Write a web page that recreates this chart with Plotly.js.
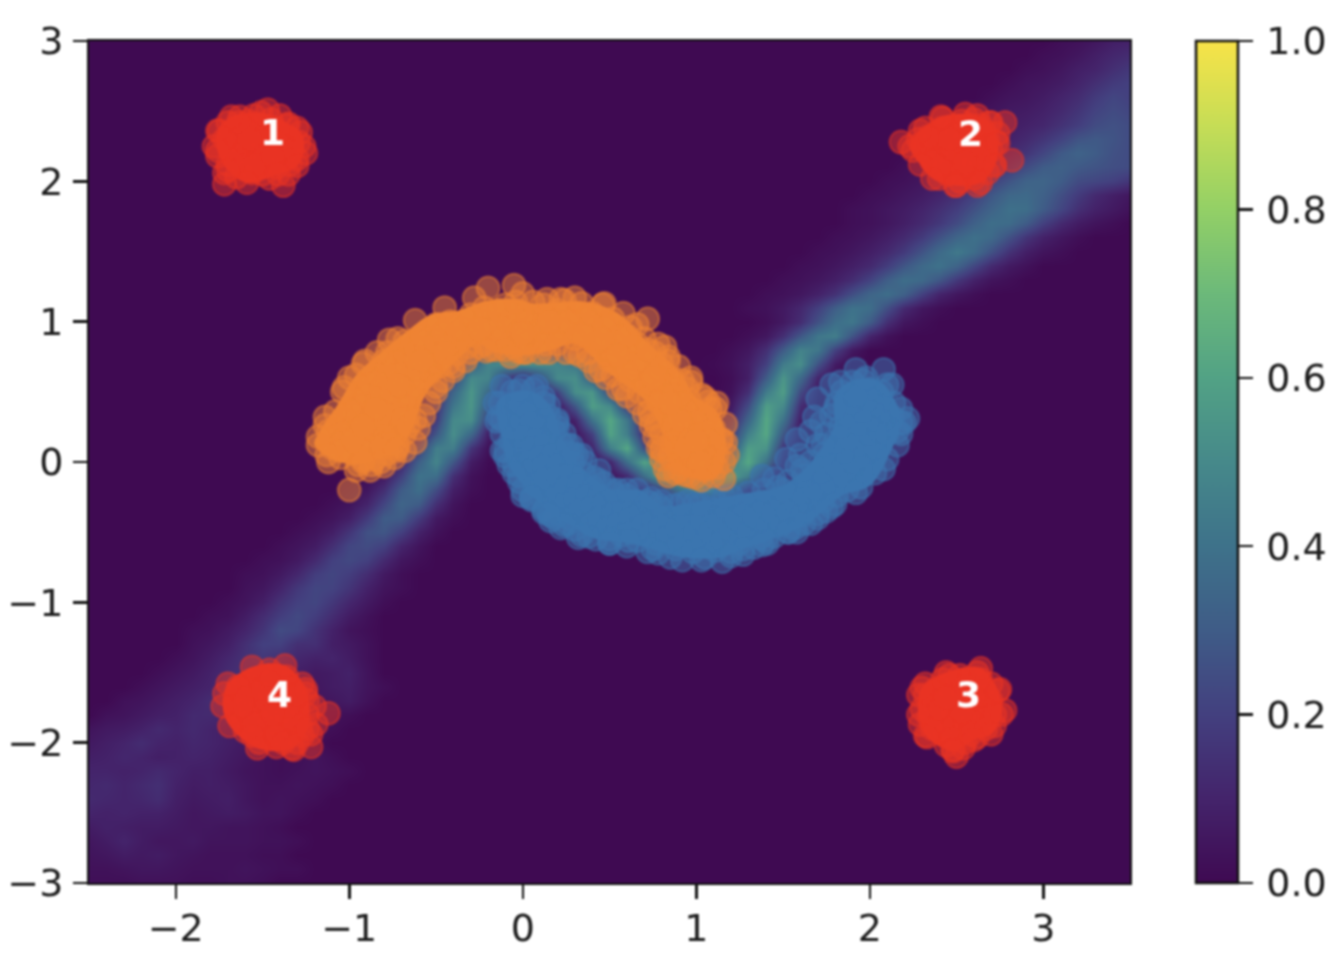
<!DOCTYPE html>
<html><head><meta charset="utf-8">
<script src="https://cdn.plot.ly/plotly-3.0.1.min.js"></script>
<style>html,body{margin:0;padding:0;background:#fff}#g{width:1340px;height:960px;filter:blur(0.8px)}</style>
</head><body><div id="g"></div>
<script>
const viridis=[[0,'#3f0a52'],[0.1,'#44246b'],[0.2,'#43407f'],[0.3,'#3f5c87'],[0.4,'#3e728a'],[0.5,'#46898a'],[0.6,'#52a285'],[0.7,'#6cb97a'],[0.8,'#93d066'],[0.9,'#c6dd56'],[1,'#f8e348']];
// density rows: [y, [xStart, percent values at 0.1 spacing], ...]
const heatRows=[
[3.0,[3.1,2,3,5,8,9]],[2.9,[3.0,2,3,5,8,11,13]],[2.8,[2.9,2,3,5,8,10,14,17]],[2.7,[2.8,2,4,5,7,10,14,18,20]],
[2.6,[2.7,2,4,5,7,10,13,18,22,20]],[2.5,[2.6,2,4,6,7,9,12,16,21,24,22]],[2.4,[2.5,2,4,5,7,9,11,15,19,24,26,24]],
[2.3,[2.4,2,3,5,7,9,12,16,21,27,29,27,24]],[2.2,[2.3,2,4,5,7,9,12,16,22,29,33,30,26,24]],
[2.1,[2.2,2,3,5,7,9,13,18,24,30,32,29,27,25,24]],[2.0,[2.1,2,3,5,7,10,14,20,27,33,34,30,24,22,20,16]],
[1.9,[2.0,2,3,5,7,10,14,20,28,35,36,32,25,18,12,8,5]],[1.8,[1.9,2,3,5,7,10,14,19,26,33,39,38,30,22,14,9,6,3]],
[1.7,[1.9,2,3,5,8,12,17,24,32,38,37,30,20,12,7,4,2]],[1.6,[1.8,2,3,5,8,12,18,26,34,39,36,26,16,9,5,2]],
[1.5,[1.7,2,3,5,8,12,18,27,36,43,37,26,15,8,4,2]],[1.4,[1.6,2,3,5,8,12,19,28,36,40,33,22,12,6,3]],
[1.3,[1.5,2,3,5,8,13,21,31,38,36,28,17,9,4,2]],[1.2,[1.4,2,3,5,9,15,25,34,38,32,20,10,5,2]],
[1.1,[1.3,2,3,6,11,20,31,40,38,25,12,5,2]],[1.0,[1.4,2,6,13,26,38,42,30,14,5,2]],
[0.9,[-0.3,3,5,6,6,5,3],[1.3,2,5,14,28,42,45,27,10,3]],
[0.8,[-0.4,3,14,22,24,22,18,10,4],[1.2,2,5,14,30,47,42,20,6]],
[0.7,[-0.4,6,30,48,50,52,52,48,42,30,16,5],[1.1,1,3,8,20,44,52,26,7]],
[0.6,[-0.5,4,20,50,48,20,8,25,50,52,30,8,2],[1.2,2,8,30,55,36,10,2]],
[0.5,[-0.6,3,10,34,55,36,10,3,2,20,52,55,22,4],[1.2,3,14,44,58,24,5]],
[0.4,[-0.6,3,14,42,55,28,6,1,0,4,28,58,50,18,3],[1.1,1,6,24,58,50,14,2]],
[0.3,[-0.7,2,5,18,50,52,18,3,0,0,0,10,40,62,42,10,2],[1.1,2,10,34,62,40,8]],
[0.2,[-0.7,2,7,28,52,35,8,1],[0.3,3,20,60,45,12,2],[1.0,1,4,16,46,62,28,5]],
[0.1,[-0.8,2,5,18,45,45,16,3],[0.3,2,10,45,62,25,5],[1.0,2,6,26,58,54,16,2]],
[0.0,[-0.8,3,10,32,48,28,7,1],[0.5,10,38,60,45,18,6,14,44,62,40,10]],
[-0.1,[-0.9,2,6,20,40,38,14,3],[0.5,3,12,38,58,55,50,50,58,45,15,3]],
[-0.2,[-1.0,2,5,14,30,38,24,8,2],[0.7,6,22,40,50,50,35,12,2]],
[-0.3,[-1.1,2,4,10,22,34,30,14,4],[0.9,5,10,10,5]],
[-0.4,[-1.2,2,4,8,18,30,30,18,6,2]],[-0.5,[-1.3,2,4,8,16,26,28,20,9,3]],
[-0.6,[-1.4,2,4,7,14,22,24,20,10,4]],[-0.7,[-1.5,2,3,6,12,20,23,20,12,5,2]],
[-0.8,[-1.6,2,3,6,11,19,22,19,13,6,2]],[-0.9,[-1.6,3,5,10,17,22,21,16,9,4,2]],
[-1.0,[-1.7,2,4,8,15,20,22,17,11,6,2]],[-1.1,[-1.8,2,3,7,13,19,23,19,13,7,3]],
[-1.2,[-1.9,2,3,6,10,16,24,22,15,9,4,2]],[-1.3,[-1.9,3,5,8,14,20,20,14,14,8,6,3]],
[-1.4,[-2.0,2,4,7,11,15,17,14,11,9,10,7,3]],[-1.5,[-2.1,2,4,6,9,13,15,14,11,8,6,7,9,4]],
[-1.6,[-2.2,2,4,6,8,10,14,13,10,8,6,5,7,8,4,2]],[-1.7,[-2.3,3,4,6,8,10,13,11,9,8,6,5,4,5,7,3]],
[-1.8,[-2.4,3,4,6,8,9,12,12,10,8,6,5,4,4,3,2]],[-1.9,[-2.5,4,6,7,9,12,10,12,10,8,6,5,4,3,3,2]],
[-2.0,[-2.5,6,8,10,13,10,9,11,10,8,6,4,3,3,2]],[-2.1,[-2.5,8,9,11,10,8,9,10,9,7,5,3,2,2,4,2]],
[-2.2,[-2.5,10,10,9,10,12,10,8,8,6,4,3,2,3,4,3,2]],[-2.3,[-2.5,11,12,10,12,14,9,7,8,7,5,3,3,4,3,2]],
[-2.4,[-2.5,12,11,10,11,13,8,6,7,8,5,3,4,3,2]],[-2.5,[-2.5,10,9,10,9,9,7,5,6,7,6,4,4,2]],
[-2.6,[-2.5,7,9,8,7,7,6,5,5,4,4,3,2]],[-2.7,[-2.5,5,7,10,7,5,5,6,4,4,4,3,3,2]],
[-2.8,[-2.5,4,5,7,6,7,5,4,3,3,3,2,2]],[-2.9,[-2.5,3,3,4,5,5,4,3,3,3,4,3,2,2]],
[-3.0,[-2.5,2,2,2,3,3,3,2,2,3,3,2]]
];
const blueCore=[[-0.1,0.48],[0.06,0.5],[0.17,0.38],[0.23,0.17],[0.35,-0.05],[0.52,-0.2],[0.68,-0.2],[0.8,-0.31],[1.02,-0.28],[1.3,-0.22],[1.48,-0.18],[1.56,-0.12],[1.66,0.0],[1.79,0.25],[1.8,0.48],[1.9,0.58],[2.05,0.58],[2.14,0.45],[2.18,0.3],[2.13,0.1],[2.0,-0.17],[1.84,-0.24],[1.65,-0.43],[1.5,-0.52],[1.27,-0.62],[1.14,-0.68],[0.93,-0.68],[0.62,-0.58],[0.4,-0.54],[0.28,-0.45],[0.2,-0.4],[0.1,-0.3],[-0.01,-0.15],[-0.09,0.0],[-0.12,0.16],[-0.15,0.42]];
const orangeCore=[[-1.2,0.12],[-1.17,0.22],[-1.06,0.42],[-0.96,0.62],[-0.81,0.79],[-0.69,0.91],[-0.53,1.05],[-0.37,1.08],[-0.2,1.15],[-0.04,1.16],[0.06,1.13],[0.37,1.14],[0.56,1.05],[0.73,0.84],[0.91,0.63],[0.99,0.47],[1.12,0.36],[1.17,0.16],[1.15,-0.05],[1.1,-0.12],[0.93,-0.1],[0.85,-0.01],[0.8,0.22],[0.72,0.42],[0.49,0.64],[0.3,0.84],[0.175,0.8],[0.03,0.76],[-0.16,0.78],[-0.26,0.84],[-0.34,0.77],[-0.45,0.64],[-0.56,0.48],[-0.67,0.16],[-0.8,0.04],[-1.02,-0.01]];
const orangeRim=[[-1.14,0.32],[-1.03,0.53],[-0.91,0.72],[-0.77,0.87],[-0.62,1.01],[-0.45,1.1],[-0.28,1.17],[-0.2,1.24],[-0.05,1.26],[0.0,1.2],[0.14,1.16],[0.22,1.16],[0.3,1.17],[0.47,1.13],[0.66,0.98],[0.84,0.75],[0.97,0.57],[1.07,0.43],[1.17,0.27],[1.18,0.05],[1.03,-0.13],[0.88,-0.08],[0.8,0.1],[0.74,0.31],[0.58,0.52],[0.38,0.72],[-0.07,0.75],[-0.21,0.79],[-0.4,0.68],[-0.5,0.54],[-0.62,0.3],[-0.73,0.08],[-0.92,0.0],[-1.13,0.05]];
const blueRim=[[-0.02,0.51],[0.12,0.46],[0.2,0.28],[0.29,0.06],[0.44,-0.13],[0.6,-0.2],[0.74,-0.26],[0.91,-0.3],[1.16,-0.25],[1.39,-0.2],[1.61,-0.06],[1.73,0.12],[1.8,0.38],[1.83,0.57],[1.92,0.66],[2.08,0.66],[1.98,0.6],[2.13,0.55],[2.18,0.38],[2.18,0.2],[2.08,-0.05],[1.92,-0.22],[1.75,-0.35],[1.58,-0.5],[1.38,-0.59],[1.2,-0.67],[1.03,-0.7],[0.78,-0.65],[0.5,-0.58],[0.34,-0.52],[0.24,-0.45],[0.15,-0.37],[0.05,-0.25],[-0.05,-0.08],[-0.12,0.08],[-0.15,0.29]];
const redCore1=[[-1.76,2.36],[-1.68,2.46],[-1.51,2.49],[-1.35,2.41],[-1.28,2.35],[-1.26,2.25],[-1.3,2.11],[-1.41,2.05],[-1.59,1.99],[-1.7,2.08],[-1.76,2.22]];
const redCore2=[[2.29,2.36],[2.41,2.46],[2.55,2.48],[2.69,2.42],[2.74,2.27],[2.72,2.11],[2.64,1.99],[2.49,1.97],[2.36,2.02],[2.29,2.12],[2.23,2.25]];
const redCore3=[[2.3,-1.61],[2.44,-1.5],[2.64,-1.47],[2.74,-1.63],[2.76,-1.8],[2.7,-1.94],[2.6,-1.98],[2.48,-2.06],[2.33,-1.96],[2.28,-1.8]];
const redCore4=[[-1.7,-1.58],[-1.56,-1.46],[-1.37,-1.45],[-1.25,-1.62],[-1.24,-1.9],[-1.33,-2.04],[-1.53,-2.04],[-1.69,-1.88],[-1.73,-1.74]];
const bluePts=[
[-0.13,0.42],[-0.06,0.5],[-0.02,0.42],[0.06,0.52],[0.12,0.42],[0.03,0.35],[-0.12,0.3],[-0.05,0.25],[0.05,0.28],[0.15,0.33],[0.2,0.3],[0.1,0.24],[-0.07,0.15],[0.0,0.18],[0.08,0.16],[0.18,0.22],[0.24,0.2],
[-0.1,0.04],[-0.02,0.08],[0.05,0.1],[0.13,0.12],[0.22,0.14],[0.28,0.12],[-0.05,-0.02],[0.03,0.0],[0.1,0.04],[0.17,0.05],[0.26,0.07],[0.31,0.05],[-0.02,-0.1],[0.05,-0.06],[0.12,-0.03],[0.2,-0.02],[0.29,-0.01],[0.36,0.0],
[0.0,-0.2],[0.07,-0.16],[0.13,-0.12],[0.2,-0.1],[0.27,-0.09],[0.35,-0.08],[0.41,-0.11],[0.05,-0.27],[0.13,-0.33],[0.2,-0.24],[0.25,-0.18],[0.32,-0.16],[0.4,-0.18],[0.47,-0.15],[0.16,-0.38],[0.24,-0.3],[0.3,-0.26],[0.37,-0.24],[0.44,-0.24],[0.52,-0.22],
[0.27,-0.4],[0.33,-0.34],[0.4,-0.32],[0.47,-0.3],[0.54,-0.28],[0.6,-0.24],[0.3,-0.48],[0.39,-0.44],[0.44,-0.4],[0.52,-0.37],[0.58,-0.34],[0.64,-0.3],[0.42,-0.55],[0.49,-0.47],[0.55,-0.44],[0.62,-0.4],[0.68,-0.36],[0.73,-0.29],
[0.5,-0.58],[0.57,-0.52],[0.62,-0.5],[0.69,-0.45],[0.75,-0.41],[0.8,-0.33],[0.6,-0.6],[0.66,-0.56],[0.73,-0.52],[0.79,-0.47],[0.84,-0.4],[0.87,-0.31],[0.72,-0.64],[0.77,-0.58],[0.83,-0.54],[0.89,-0.47],[0.94,-0.38],[0.99,-0.3],
[0.85,-0.68],[0.88,-0.62],[0.93,-0.57],[0.99,-0.5],[1.03,-0.42],[1.08,-0.33],[0.92,-0.7],[0.98,-0.64],[1.04,-0.58],[1.08,-0.5],[1.13,-0.43],[1.17,-0.33],[1.05,-0.68],[1.11,-0.63],[1.15,-0.56],[1.2,-0.5],[1.23,-0.41],[1.27,-0.31],
[1.15,-0.71],[1.2,-0.64],[1.25,-0.58],[1.3,-0.5],[1.33,-0.39],[1.38,-0.28],[1.27,-0.66],[1.33,-0.61],[1.37,-0.54],[1.41,-0.46],[1.44,-0.36],[1.48,-0.26],[1.41,-0.58],[1.45,-0.53],[1.49,-0.45],[1.53,-0.36],[1.57,-0.28],[1.47,-0.18],
[1.53,-0.5],[1.57,-0.47],[1.61,-0.38],[1.65,-0.3],[1.6,-0.22],[1.53,-0.14],[1.66,-0.44],[1.7,-0.37],[1.73,-0.28],[1.68,-0.19],[1.62,-0.1],[1.58,-0.03],[1.78,-0.32],[1.81,-0.24],[1.77,-0.15],[1.72,-0.07],[1.66,0.0],[1.87,-0.2],
[1.85,-0.1],[1.8,-0.02],[1.74,0.06],[1.7,0.12],[1.94,-0.1],[1.91,0.0],[1.86,0.07],[1.8,0.14],[1.75,0.2],[1.72,0.28],[1.98,0.03],[1.95,0.12],[1.88,0.17],[1.83,0.25],[1.78,0.33],[2.03,0.1],[2.0,0.2],[1.94,0.27],[1.87,0.33],[1.81,0.42],
[2.06,0.22],[2.03,0.3],[1.96,0.36],[1.89,0.42],[1.84,0.5],[2.1,0.35],[2.06,0.4],[1.99,0.45],[1.93,0.5],[1.9,0.57],[2.13,0.32],[2.07,0.5],[2.0,0.52],[1.96,0.58],[1.92,0.47],[2.1,0.2],[2.18,0.28],[2.22,0.31],[2.16,0.22],
[0.0,-0.24],[0.12,-0.34],[0.16,-0.42],[0.22,-0.47],[0.32,-0.54],[1.52,0.02],[1.3,-0.22],[1.6,0.05],[0.72,-0.28],[0.95,-0.28],[1.2,-0.24],[1.45,-0.12],[1.1,-0.24],[0.8,-0.28],[0.55,-0.2],
[-0.16,0.42],[-0.14,0.32],[-0.12,0.2],[-0.1,0.08],[-0.08,-0.02],[-0.02,-0.14],[0.05,-0.26],[0.12,-0.36],[0.18,-0.4],[0.26,-0.44],[0.38,-0.53],[0.5,-0.55],[0.61,-0.56],[0.75,-0.62],[1.27,-0.62],[1.4,-0.56],[1.53,-0.5],[1.62,-0.44],[1.7,-0.4],[1.8,-0.3],[1.95,-0.18],[2.03,-0.08],[2.1,0.02],[2.16,0.12],[2.2,0.28],[2.14,0.42],[2.1,0.55],[1.78,0.55],[1.7,0.45],[1.68,0.32],[1.66,0.22],[1.58,0.16],
[-0.12,0.54],[0.0,0.54],[0.08,0.54],[0.15,0.4],[0.2,0.25],[0.26,0.12],[0.34,0.05],[0.44,-0.06],[0.52,-0.2],[0.66,-0.2],[0.78,-0.3],[1.02,-0.3],[1.38,-0.1],[1.5,-0.2]
];
const orangePts=[
[-1.18,0.12],[-1.12,0.22],[-1.1,0.1],[-1.05,0.03],[-1.03,0.16],[-0.98,0.06],[-0.95,-0.02],[-0.87,-0.02],[-0.9,0.08],[-0.85,0.02],[-0.98,0.24],[-0.92,0.16],[-0.85,0.12],[-0.78,0.06],[-0.72,0.12],[-1.0,-0.2],
[-1.04,0.3],[-0.98,0.34],[-0.93,0.28],[-0.86,0.22],[-0.8,0.18],[-0.73,0.22],[-0.68,0.2],[-1.0,0.38],[-0.92,0.4],[-0.86,0.34],[-0.8,0.3],[-0.72,0.32],[-0.66,0.33],[-0.68,0.4],[-0.9,0.48],[-0.84,0.44],[-0.78,0.4],[-0.72,0.44],[-0.66,0.48],
[-1.0,0.6],[-0.96,0.62],[-0.88,0.56],[-0.82,0.52],[-0.76,0.5],[-0.7,0.54],[-0.62,0.54],[-0.84,0.62],[-0.78,0.6],[-0.72,0.62],[-0.65,0.6],[-0.58,0.6],[-0.8,0.72],[-0.74,0.68],[-0.67,0.68],[-0.6,0.66],[-0.53,0.64],[-0.78,0.78],[-0.68,0.78],[-0.62,0.74],[-0.55,0.72],[-0.48,0.68],
[-0.68,0.86],[-0.62,0.82],[-0.56,0.8],[-0.5,0.76],[-0.43,0.7],[-0.58,0.9],[-0.5,0.86],[-0.44,0.82],[-0.38,0.77],[-0.3,0.78],[-0.5,0.98],[-0.46,0.92],[-0.38,0.88],[-0.32,0.82],[-0.25,0.82],[-0.18,0.8],[-0.42,1.0],[-0.35,0.95],[-0.28,0.9],[-0.22,0.84],[-0.15,0.8],
[-0.3,1.05],[-0.22,1.0],[-0.17,0.95],[-0.12,0.88],[-0.05,0.82],[-0.22,1.1],[-0.14,1.08],[-0.08,1.0],[-0.02,0.93],[0.04,0.86],[-0.1,1.12],[-0.03,1.08],[0.03,1.02],[0.1,0.94],[0.13,0.84],[-0.04,1.14],[0.06,1.14],[0.13,1.04],[0.2,0.95],
[0.02,0.78],[0.12,1.12],[0.2,1.08],[0.26,1.0],[0.3,0.88],[0.1,0.78],[0.24,1.15],[0.32,1.06],[0.38,0.96],[0.42,0.84],[0.25,0.78],[0.34,1.13],[0.4,1.06],[0.47,0.96],[0.52,0.85],[0.33,0.76],[0.46,1.12],[0.52,1.02],[0.56,0.9],[0.6,0.78],
[0.58,1.06],[0.62,0.96],[0.66,0.84],[0.7,0.72],[0.64,0.7],[0.52,0.62],[0.5,0.72],[0.62,0.58],[0.72,1.02],[0.7,0.88],[0.76,0.78],[0.79,0.66],[0.74,0.58],[0.67,0.5],[0.73,0.46],[0.78,0.84],[0.84,0.72],[0.86,0.6],[0.8,0.5],
[0.73,0.36],[0.79,0.42],[0.87,0.48],[0.92,0.58],[0.95,0.52],[0.77,0.26],[0.83,0.34],[0.9,0.42],[0.96,0.44],[1.03,0.48],[0.8,0.2],[0.86,0.26],[0.93,0.32],[1.0,0.36],[1.08,0.38],[0.8,0.08],[0.86,0.14],[0.93,0.22],[0.99,0.28],[1.05,0.32],
[0.85,0.05],[0.9,0.1],[0.96,0.16],[1.03,0.2],[1.1,0.24],[0.82,-0.05],[0.9,-0.01],[0.96,0.05],[1.02,0.1],[1.08,0.16],[1.15,0.16],[0.84,-0.1],[0.93,-0.09],[1.0,-0.03],[1.06,0.0],[1.12,0.05],[1.14,0.16],[1.17,0.14],[0.99,-0.11],[1.05,-0.06],[1.12,-0.04],[1.16,-0.12],[0.85,0.03],
[0.15,0.78],[0.45,0.66],[0.38,0.78],[0.2,0.84],[-0.1,0.8],[0.0,0.78],[0.3,0.78],[0.6,0.64],[-0.03,0.79],[0.78,0.42],[0.94,0.1],[-0.82,0.1],[-0.78,0.25],[-1.05,0.08],[-0.92,0.02],[-0.7,0.29],[-0.95,0.12],[-0.85,0.28],[-0.8,0.35],[-0.75,0.13],[-0.98,0.16],[-0.88,0.3],[0.8,0.7],[0.9,0.68],
[0.72,0.8],[0.6,0.9],[0.45,0.88],[0.35,0.9],[0.15,1.0],[0.0,0.92],[-0.25,0.95],[-0.45,0.78],[-0.58,0.72],[-0.72,0.55],[-0.85,0.38],[-0.92,0.25],[1.0,0.15],[0.9,0.3],[0.85,0.42],[0.75,0.6],[0.55,0.76],
[0.9,-0.06],[0.96,-0.1],[1.1,-0.1],[1.16,0.0],[1.02,0.0],
[-1.12,0.0],[-0.96,-0.06],[-0.88,-0.06],[-0.8,-0.03],[-0.74,0.03],[-0.68,0.08],[-0.62,0.14],[-0.6,0.24],[-0.57,0.33],[-0.54,0.42],[-0.5,0.5],[-0.46,0.58],[-0.4,0.65],[-0.33,0.72],
[0.42,0.65],[0.48,0.6],[0.55,0.52],[0.6,0.47],[0.66,0.42],[0.7,0.34],[0.74,0.26],[0.76,0.18],[0.78,0.1],[0.8,0.02],[1.12,0.42],[0.97,0.6],[1.05,0.46],[1.11,0.38],
[-1.08,0.36],[-1.14,0.26],[-1.18,0.18],[-1.04,0.5],[-0.92,0.7],[-0.84,0.78],[-0.72,0.88],[-0.69,0.31],[-0.66,0.25],[-0.72,0.1],[-0.82,0.0],[0.82,0.82]
];
const redPts1=[
[-1.72,1.98],[-1.38,1.97],[-1.25,2.2],[-1.47,2.51],[-1.75,2.36],[-1.78,2.25],[-1.7,2.42],[-1.63,2.46],[-1.55,2.47],[-1.4,2.47],[-1.3,2.38],[-1.29,2.28],[-1.34,2.12],[-1.46,2.02],[-1.56,2.06],[-1.65,2.03],[-1.7,2.12],[-1.76,2.18],[-1.68,2.28],[-1.6,2.38],[-1.52,2.4],[-1.43,2.38],[-1.36,2.3],[-1.4,2.2],[-1.48,2.12],[-1.58,2.14],[-1.62,2.2],[-1.53,2.28],[-1.46,2.27],[-1.55,2.2],[-1.66,2.35],[-1.42,2.1],[-1.3,2.16],[-1.68,2.2],[-1.5,2.05],[-1.6,2.28],[-1.36,2.4],[-1.72,2.3],[-1.48,2.34],[-1.4,2.28],[-1.62,2.1],[-1.54,2.12],[-1.33,2.22],[-1.58,2.43],[-1.45,2.44],[-1.64,2.42],[-1.35,2.05],[-1.57,2.3],[-1.44,2.18],[-1.72,2.06]
];
const redPts2=[
[2.18,2.28],[2.28,2.3],[2.34,2.22],[2.4,2.17],[2.45,2.05],[2.52,2.0],[2.6,2.02],[2.68,2.06],[2.82,2.15],[2.73,2.28],[2.78,2.42],[2.62,2.47],[2.53,2.43],[2.42,2.45],[2.32,2.38],[2.25,2.22],[2.4,2.32],[2.48,2.38],[2.58,2.4],[2.66,2.36],[2.7,2.22],[2.63,2.12],[2.54,2.1],[2.46,2.14],[2.42,2.25],[2.5,2.28],[2.58,2.3],[2.64,2.24],[2.56,2.18],[2.48,2.22],[2.36,2.3],[2.68,2.3],[2.3,2.27],[2.72,2.12],[2.42,2.38],[2.36,2.14],[2.6,2.44],[2.5,1.97],[2.62,1.97],[2.4,2.02],[2.7,2.42],[2.64,2.4],[2.34,2.32],[2.66,2.16],[2.4,2.1],[2.52,2.34],[2.6,2.26],[2.46,2.3],[2.55,2.14],[2.74,2.34]
];
const redPts3=[
[2.28,-1.66],[2.29,-1.87],[2.32,-1.95],[2.44,-2.02],[2.5,-2.1],[2.55,-2.0],[2.62,-1.96],[2.72,-1.88],[2.78,-1.77],[2.75,-1.62],[2.62,-1.5],[2.52,-1.52],[2.42,-1.55],[2.32,-1.58],[2.35,-1.72],[2.34,-1.82],[2.42,-1.92],[2.52,-1.92],[2.62,-1.86],[2.68,-1.78],[2.66,-1.66],[2.58,-1.6],[2.48,-1.6],[2.4,-1.66],[2.45,-1.76],[2.54,-1.72],[2.6,-1.76],[2.5,-1.84],[2.42,-1.84],[2.58,-1.84],[2.3,-1.76],[2.7,-1.7],[2.55,-1.55],[2.46,-1.52],[2.38,-1.62],[2.7,-1.58],[2.64,-1.55],[2.36,-1.9],[2.47,-1.97],[2.58,-1.94],[2.67,-1.9],[2.72,-1.8],[2.32,-1.66],[2.5,-1.68],[2.6,-1.68],[2.4,-1.76],[2.53,-1.78],[2.44,-1.68],[2.54,-2.04],[2.48,-2.05]
];
const redPts4=[
[-1.72,-1.65],[-1.65,-1.7],[-1.62,-1.82],[-1.6,-1.92],[-1.52,-2.0],[-1.42,-2.03],[-1.32,-2.05],[-1.22,-2.03],[-1.19,-1.87],[-1.12,-1.79],[-1.24,-1.7],[-1.27,-1.58],[-1.36,-1.53],[-1.46,-1.48],[-1.5,-1.55],[-1.58,-1.58],[-1.64,-1.6],[-1.55,-1.7],[-1.5,-1.8],[-1.46,-1.92],[-1.35,-1.95],[-1.28,-1.88],[-1.3,-1.76],[-1.38,-1.66],[-1.45,-1.6],[-1.42,-1.72],[-1.4,-1.84],[-1.52,-1.9],[-1.58,-1.78],[-1.34,-1.6],[-1.24,-1.8],[-1.22,-1.94],[-1.3,-2.0],[-1.42,-1.95],[-1.48,-1.7],[-1.33,-1.84],[-1.6,-1.68],[-1.55,-1.86],[-1.4,-1.55],[-1.25,-1.65],[-1.35,-1.74],[-1.44,-1.8],[-1.5,-1.62],[-1.56,-1.95],[-1.38,-2.0],[-1.27,-1.95],[-1.2,-1.74],[-1.46,-1.52],[-1.62,-1.74],[-1.3,-1.66]
];
const clusterLabels=['1','2','3','4'];
const labelX=[-1.44,2.58,2.57,-1.40];
const labelY=[2.35,2.34,-1.66,-1.66];
const cbTicks=[0,0.2,0.4,0.6,0.8,1.0];
const axisFont={family:'"DejaVu Sans"',size:38,color:'#1c1c1c'};
const BLUE='59,117,175',ORANGE='239,132,51',RED='234,51,35';

const xs=[],ys=[];
for(let i=0;i<=60;i++)xs.push(+(-2.5+i*0.1).toFixed(1));
for(let j=0;j<=60;j++)ys.push(+(-3+j*0.1).toFixed(1));
const z=ys.map(()=>xs.map(()=>0));
heatRows.forEach(r=>{
  const j=Math.round((r[0]+3)*10);
  r.slice(1).forEach(seg=>{
    const s=Math.round((seg[0]+2.5)*10);
    seg.slice(1).forEach((v,k)=>{if(s+k<=60)z[j][s+k]=v/100;});
  });
});
function scat(p,c){return {type:'scatter',mode:'markers',x:p.map(q=>q[0]),y:p.map(q=>q[1]),hoverinfo:'skip',showlegend:false,
  marker:{size:23,color:`rgba(${c},0.5)`,line:{color:`rgba(${c},0.5)`,width:2}}};}
function core(p,c){const q=p.concat([p[0]]);return {type:'scatter',mode:'lines',x:q.map(a=>a[0]),y:q.map(a=>a[1]),fill:'toself',fillcolor:`rgb(${c})`,line:{width:0,shape:'spline',smoothing:1,color:`rgb(${c})`},hoverinfo:'skip',showlegend:false};}
const data=[
 {type:'heatmap',x:xs,y:ys,z:z,zmin:0,zmax:1,zsmooth:'best',colorscale:viridis,hoverinfo:'skip',
  colorbar:{x:1.0634,xanchor:'left',xpad:0,y:0,yanchor:'bottom',ypad:0,len:1,lenmode:'fraction',thickness:42,thicknessmode:'pixels',
   outlinewidth:2.5,outlinecolor:'#111',tickmode:'array',tickvals:cbTicks,ticktext:cbTicks.map(v=>v.toFixed(1)),ticks:'outside',ticklen:14,tickwidth:2.5,tickcolor:'#111',tickfont:axisFont}},
 core(blueCore,BLUE),scat(bluePts.concat(blueRim),BLUE),
 core(orangeCore,ORANGE),scat(orangePts.concat(orangeRim),ORANGE),
 core(redCore1,RED),scat(redPts1.concat(redCore1),RED),core(redCore2,RED),scat(redPts2.concat(redCore2),RED),
 core(redCore3,RED),scat(redPts3.concat(redCore3),RED),core(redCore4,RED),scat(redPts4.concat(redCore4),RED)
];
const ax={showgrid:false,zeroline:false,mirror:true,showline:true,linecolor:'#111',linewidth:2,ticks:'outside',ticklen:14,tickwidth:2.5,tickcolor:'#111',tickfont:axisFont};
const layout={width:1340,height:960,margin:{l:89,r:210,t:41,b:77},paper_bgcolor:'#fff',plot_bgcolor:'#3f0a52',showlegend:false,
 xaxis:Object.assign({range:[-2.5,3.5],tickvals:[-2,-1,0,1,2,3],ticklabelstandoff:-4},ax),
 yaxis:Object.assign({range:[-3,3],tickvals:[-3,-2,-1,0,1,2,3],ticklabelstandoff:2},ax),
 annotations:clusterLabels.map((t,i)=>({x:labelX[i],y:labelY[i],xref:'x',yref:'y',text:'<b>'+t+'</b>',showarrow:false,font:{family:'"DejaVu Sans"',size:36,color:'#fff'}}))};
Plotly.newPlot('g',data,layout,{displayModeBar:false,staticPlot:true}).then(()=>{
  document.querySelectorAll('.colorbar .cbaxis text, .colorbar text').forEach(t=>{
    const x=parseFloat(t.getAttribute('x')||0);t.setAttribute('x',x+6);
  });
});
</script></body></html>
